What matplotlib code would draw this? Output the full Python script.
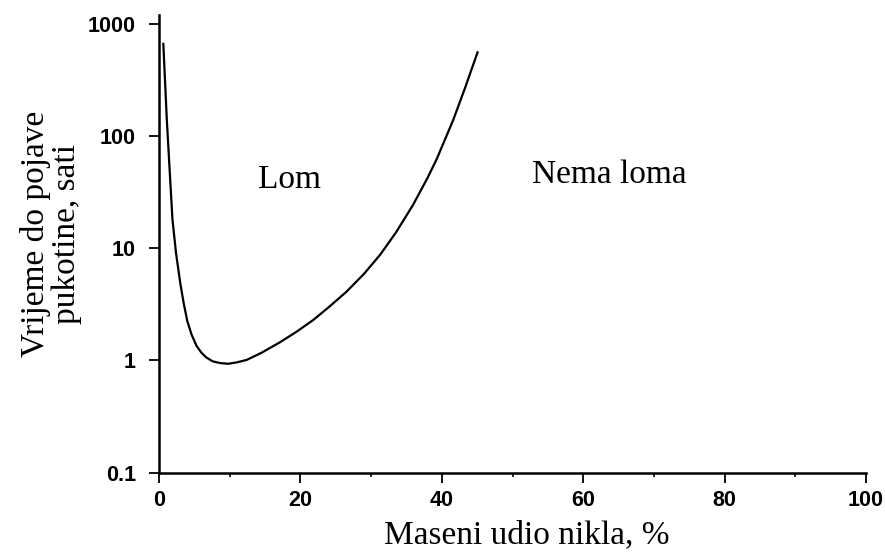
#!/usr/bin/env python3
"""Nickel content vs. time to crack initiation (log scale)."""

import matplotlib
matplotlib.use("Agg")
import matplotlib.pyplot as plt
from matplotlib.ticker import FixedLocator, NullFormatter

# values
nickel_pct = [0.6, 1.1, 1.5, 1.9, 2.4, 3.0, 3.5, 4.0, 4.6, 5.3, 6.0, 6.7,
              7.6, 8.7, 9.8, 11.0, 12.4, 14.5, 17.1, 19.5, 21.8, 24.0,
              26.5, 29.0, 31.3, 33.5, 35.9, 38.0, 39.3, 41.6, 43.3, 45.1]
hours = [680, 140, 50, 18, 9.1, 4.9, 3.2, 2.24, 1.7, 1.35, 1.17, 1.06,
         0.98, 0.945, 0.933, 0.96, 1.01, 1.17, 1.45, 1.81, 2.29, 2.98,
         4.09, 5.92, 8.8, 13.8, 24.2, 42.7, 63, 139, 271, 571]

y_ticks = [0.1, 1, 10, 100, 1000]
y_tick_labels = ["0.1", "1", "10", "100", "1000"]
x_ticks = [0, 20, 40, 60, 80, 100]
x_minor_ticks = [10, 30, 50, 70, 90]

SERIF = ["Liberation Serif", "DejaVu Serif"]
TICKFONT = {"family": "Liberation Sans", "weight": "bold", "size": 15.5}

fig = plt.figure(figsize=(8.85, 5.52), dpi=100)
ax = fig.add_axes([0.1797, 0.144, 0.7989, 0.8288])

ax.plot(nickel_pct, hours, color="black", linewidth=1.6,
        solid_joinstyle="round", solid_capstyle="butt")

ax.set_yscale("log")
ax.set_ylim(0.1, 1203)
ax.set_xlim(0, 100)

ax.yaxis.set_major_locator(FixedLocator(y_ticks))
ax.yaxis.set_minor_locator(FixedLocator([]))
ax.set_yticks(y_ticks)
ax.set_yticklabels(y_tick_labels, fontdict=TICKFONT)
ax.set_xticks(x_ticks)
ax.set_xticklabels([str(t) for t in x_ticks], fontdict=TICKFONT)
ax.set_xticks(x_minor_ticks, minor=True)
ax.xaxis.set_minor_formatter(NullFormatter())

ax.tick_params(axis="y", which="major", direction="out", length=7, width=1.3, pad=9.5)
ax.tick_params(axis="x", which="major", direction="out", length=7, width=1.3, pad=5.5)
ax.tick_params(axis="x", which="minor", direction="out", length=3, width=1.2)

for side in ("top", "right"):
    ax.spines[side].set_visible(False)
for side in ("left", "bottom"):
    ax.spines[side].set_linewidth(1.8)

ax.text(18.5, 34.7, "Lom", fontsize=24, family=SERIF, ha="center", va="baseline")
ax.text(63.7, 38.4, "Nema loma", fontsize=24, family=SERIF,
        ha="center", va="baseline")

ax.set_xlabel("Maseni udio nikla, %", fontsize=24, family=SERIF)
ax.xaxis.set_label_coords(0.52, -0.104)
ax.set_ylabel("Vrijeme do pojave\npukotine, sati", fontsize=24, family=SERIF,
              linespacing=1.0)
ax.yaxis.set_label_coords(-0.109, 0.521)

fig.savefig("out.png", dpi=100)
